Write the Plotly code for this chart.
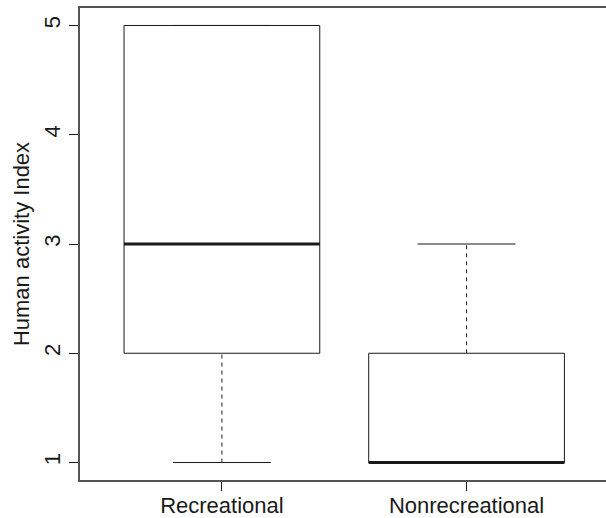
import plotly.graph_objects as go

categories = ["Recreational", "Nonrecreational"]
positions = [1, 2]
mins = [1, 1]
q1 = [2, 1]
medians = [3, 1]
q3 = [5, 2]
maxs = [5, 3]
y_ticks = [1, 2, 3, 4, 5]

BOX_HALF = 0.4
CAP_HALF = 0.2
FONT = "Liberation Sans, Arial, Helvetica, sans-serif"
INK = "#1a1a1a"
FS = 22

fig = go.Figure()
for c, lo, a, m, b, hi in zip(positions, mins, q1, medians, q3, maxs):
    # whiskers (dashed)
    fig.add_trace(go.Scatter(x=[c, c, None, c, c], y=[lo, a, None, b, hi], mode="lines",
                             line=dict(color=INK, width=1, dash="4px,4px"), hoverinfo="skip", showlegend=False))
    # staples
    fig.add_trace(go.Scatter(x=[c - CAP_HALF, c + CAP_HALF, None, c - CAP_HALF, c + CAP_HALF],
                             y=[lo, lo, None, hi, hi], mode="lines",
                             line=dict(color=INK, width=1), hoverinfo="skip", showlegend=False))
    # box
    fig.add_trace(go.Scatter(x=[c - BOX_HALF, c + BOX_HALF, c + BOX_HALF, c - BOX_HALF, c - BOX_HALF],
                             y=[a, a, b, b, a], mode="lines",
                             line=dict(color=INK, width=1), fill="toself", fillcolor="white",
                             hoverinfo="skip", showlegend=False))
    # median
    fig.add_trace(go.Scatter(x=[c - BOX_HALF, c + BOX_HALF], y=[m, m], mode="lines",
                             line=dict(color=INK, width=3), hoverinfo="skip", showlegend=False))

fig.update_layout(
    width=606, height=518,
    margin=dict(l=80, r=0, t=8, b=38),
    paper_bgcolor="white", plot_bgcolor="white",
    font=dict(family=FONT, size=FS, color=INK),
    showlegend=False,
)
fig.update_xaxes(
    range=[0.42, 2.57], tickvals=positions, ticktext=categories,
    showgrid=False, zeroline=False, showline=True, mirror=True,
    linecolor="#555", linewidth=1.5, ticks="outside", ticklen=9, tickcolor=INK,
    tickfont=dict(size=FS), ticklabelstandoff=-4, automargin=False,
)
fig.update_yaxes(
    range=[0.84, 5.16], tickvals=y_ticks, ticktext=[str(v) for v in y_ticks],
    showgrid=False, zeroline=False, showline=True, mirror=False,
    linecolor="#555", linewidth=1.5, ticks="outside", ticklen=9, tickcolor=INK,
    tickangle=-90, tickfont=dict(size=FS), automargin=False,
    title=dict(text="Human activity Index", font=dict(size=FS), standoff=5),
)

fig.write_html("out.html", config={"displayModeBar": False},
               post_script="document.body.style.margin='0';document.body.style.overflow='hidden';")
